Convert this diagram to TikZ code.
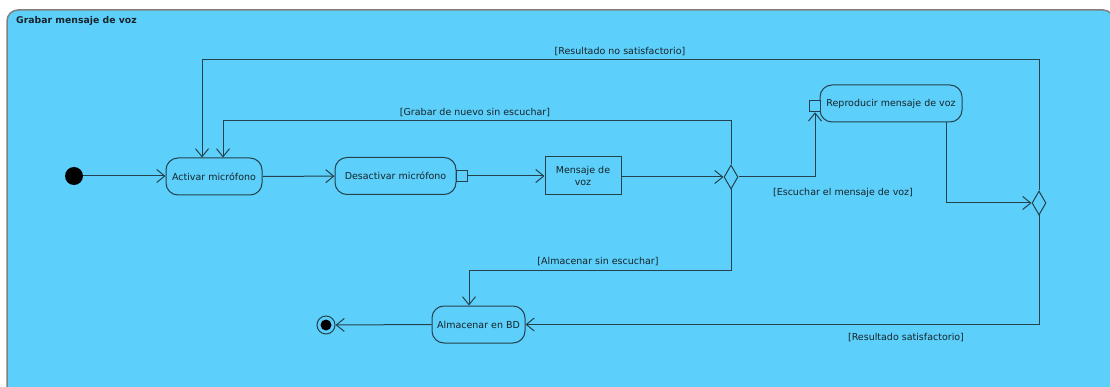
\documentclass[tikz,border=0pt]{standalone}
\usepackage{fontspec}
\setmainfont{DejaVu Sans}
\usetikzlibrary{arrows.meta,shapes.geometric,calc}
\definecolor{swim}{HTML}{5CD0FA}
\definecolor{ink}{HTML}{24414D}
\definecolor{txt}{HTML}{17242A}
\definecolor{frameline}{HTML}{808080}
\tikzset{
  actbox/.style={draw=ink, line width=1pt, rounded corners=12pt, fill=swim,
    minimum height=37pt, inner sep=0pt, font=\fontsize{9.5}{11}\selectfont, text=txt},
  objbox/.style={draw=ink, line width=1pt, fill=swim, inner sep=0pt,
    minimum width=76pt, minimum height=38pt, align=center,
    font=\fontsize{9.5}{12.5}\selectfont, text=txt},
  pinbox/.style={draw=ink, line width=1pt, fill=swim, minimum size=11.5pt, inner sep=0pt},
  decision/.style={draw=ink, line width=1pt, fill=swim, diamond, aspect=0.58,
    minimum width=14pt, minimum height=24pt, inner sep=0pt},
  guard/.style={font=\fontsize{9.5}{11}\selectfont, text=txt, inner sep=0pt},
  flow/.style={draw=ink, line width=1pt,
    -{Straight Barb[length=8pt,width=13pt,line width=1pt]}},
}
\begin{document}
\begin{tikzpicture}[x=1pt,y=-1pt]
  \useasboundingbox (0,0) rectangle (1110,387);
  \fill[white] (0,0) rectangle (1110,387);
  % activity frame
  \begin{scope}
    \clip (0,0) rectangle (1110,387);
    \draw[frameline, line width=1.5pt, fill=swim, rounded corners=11pt]
      (7,10) rectangle (1114,400);
  \end{scope}
  \node[anchor=west, font=\bfseries\fontsize{9.3}{10}\selectfont, text=txt, inner sep=0pt]
    (title) at (16,21) {Grabar mensaje de voz};

  % nodes
  \node[circle, fill=black, minimum size=18pt, inner sep=0pt] (init) at (74,176) {};
  \node[actbox, minimum width=96pt] (act1) at (214,176.5) {Activar micrófono};
  \node[actbox, minimum width=121pt] (act2) at (395.5,176) {Desactivar micrófono};
  \node[pinbox] (pin1) at (462,176) {};
  \node[objbox] (obj) at (583,176) {Mensaje de\\voz};
  \node[decision] (dec1) at (731,177) {};
  \node[actbox, minimum width=142pt] (act3) at (891,103.5) {Reproducir mensaje de voz};
  \node[pinbox] (pin2) at (815,106) {};
  \node[decision] (dec2) at (1039,203) {};
  \node[actbox, minimum width=93pt] (act4) at (478.5,324.5) {Almacenar en BD};
  \node[circle, draw=ink, line width=1pt, fill=swim, minimum size=18pt, inner sep=0pt] (final) at (326,325) {};
  \node[circle, fill=black, minimum size=11pt, inner sep=0pt] at (final) {};

  % routing points
  \coordinate (g1) at (223,121);
  \coordinate (r1) at (202,60);
  \coordinate (a1) at (469,270);

  % flows
  \draw[flow] (init) -- (act1.west |- init);
  \draw[flow] (act1) -- (act2);
  \draw[flow] (pin1) -- (obj.west |- pin1);
  \draw[flow] (obj.east |- dec1) -- (dec1.west);
  \draw[flow] (dec1.north) |- (g1) -- (g1 |- act1.north);
  \draw[flow] (dec2.north) |- (r1) -- (r1 |- act1.north);
  \draw[flow] (dec1.east) -| (pin2.south);
  \draw[flow] ([xshift=55pt]act3.south) |- (dec2.west);
  \draw[flow] (dec1.south) |- (a1) -- (a1 |- act4.north);
  \draw[flow] (dec2.south) |- (act4.east);
  \draw[flow] (act4.west) -- (final.east);

  % guards
  \node[guard] (l1) at (620,52) {[Resultado no satisfactorio]};
  \node[guard] (l2) at (475,113) {[Grabar de nuevo sin escuchar]};
  \node[guard] (l3) at (843,193) {[Escuchar el mensaje de voz]};
  \node[guard] (l4) at (598,262) {[Almacenar sin escuchar]};
  \node[guard] (l5) at (906,338) {[Resultado satisfactorio]};
\end{tikzpicture}
\end{document}
